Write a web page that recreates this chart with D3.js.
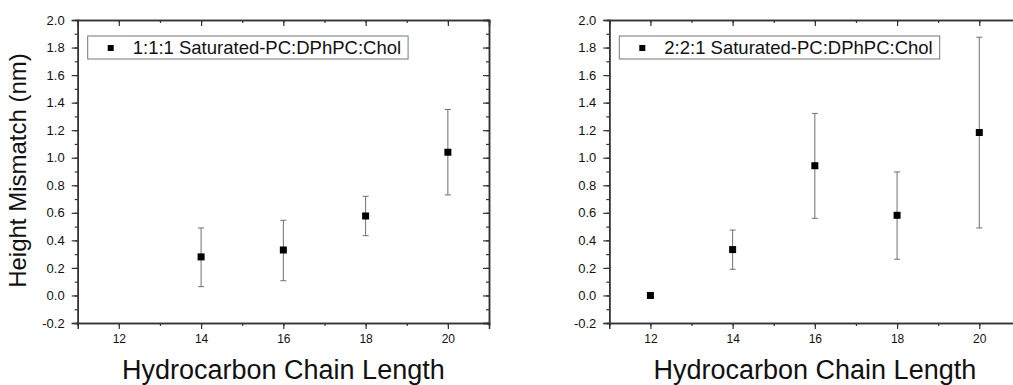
<!DOCTYPE html>
<html><head><meta charset="utf-8">
<script src="https://cdn.jsdelivr.net/npm/d3@7"></script>
<style>body{margin:0;background:#fff}svg{display:block}text{font-family:"Liberation Sans",Arial,sans-serif}</style>
</head><body><svg id="c" width="1013" height="385"></svg>
<script>
const chainA = [14, 16, 18, 20];
const meanA = [0.28, 0.33, 0.577, 1.04];
const lowA = [0.064, 0.107, 0.434, 0.73];
const highA = [0.49, 0.546, 0.72, 1.35];
const chainB = [12, 14, 16, 18, 20];
const meanB = [0.0, 0.333, 0.942, 0.582, 1.183];
const lowB = [0.0, 0.19, 0.56, 0.263, 0.49];
const highB = [0.0, 0.475, 1.322, 0.897, 1.875];
const legendA = "1:1:1 Saturated-PC:DPhPC:Chol";
const legendB = "2:2:1 Saturated-PC:DPhPC:Chol";
const xTicks = [12, 14, 16, 18, 20];
const yTicks = [-0.2, 0, 0.2, 0.4, 0.6, 0.8, 1.0, 1.2, 1.4, 1.6, 1.8, 2.0];
const xTitle = "Hydrocarbon Chain Length";
const yTitle = "Height Mismatch (nm)";

const svg = d3.select("#c");
const fmt = d => d3.format(".1f")(d).replace("−", "-");
const axisColor = "#333";

function panel(x0, x1, chain, mean, low, high, legend, showY) {
  const top = 20, bottom = 323;
  const x = d3.scaleLinear().domain([11, 21]).range([x0, x1]);
  const y = d3.scaleLinear().domain([-0.2, 2.0]).range([bottom, top]);
  const g = svg.append("g");
  const minorX = d3.range(11, 21.01, 1);
  const minorY = d3.range(-0.2, 2.001, 0.1);

  const bx = g.append("g").attr("transform", `translate(0,${bottom})`);
  bx.call(d3.axisBottom(x).tickValues(minorX).tickSize(3).tickFormat(""));
  bx.append("g").call(d3.axisBottom(x).tickValues(xTicks).tickSize(6).tickPadding(5).tickFormat(d3.format("d")));
  const tx = g.append("g").attr("transform", `translate(0,${top})`);
  tx.call(d3.axisBottom(x).tickValues(minorX).tickSize(3).tickFormat(""));
  tx.append("g").call(d3.axisBottom(x).tickValues(xTicks).tickSize(6).tickFormat(""));
  const ly = g.append("g").attr("transform", `translate(${x0},0)`);
  ly.call(d3.axisLeft(y).tickValues(minorY).tickSize(3).tickFormat(""));
  const lyt = ly.append("g").call(d3.axisLeft(y).tickValues(yTicks).tickSize(6).tickPadding(7).tickFormat(fmt));
  const ry = g.append("g").attr("transform", `translate(${x1},0)`);
  ry.call(d3.axisLeft(y).tickValues(minorY).tickSize(3).tickFormat(""));
  ry.append("g").call(d3.axisLeft(y).tickValues(yTicks).tickSize(6).tickFormat(""));

  g.selectAll(".domain").attr("stroke", axisColor).attr("stroke-width", 1.5);
  g.selectAll(".tick line").attr("stroke", axisColor).attr("stroke-width", 1.2);
  g.selectAll(".tick text").attr("fill", "#111").style("font-size", "12px").style("font-family", '"Liberation Sans",Arial,sans-serif');
  lyt.selectAll(".tick text").style("font-size", "13px");

  const data = chain.map((c, i) => ({c, m: mean[i], lo: low[i], hi: high[i]}));
  const eb = g.append("g").attr("stroke", "#707070").attr("stroke-width", 1);
  data.filter(d => d.hi > d.lo).forEach(d => {
    eb.append("line").attr("x1", x(d.c)).attr("x2", x(d.c)).attr("y1", y(d.lo)).attr("y2", y(d.hi));
    eb.append("line").attr("x1", x(d.c) - 3).attr("x2", x(d.c) + 3).attr("y1", y(d.lo)).attr("y2", y(d.lo));
    eb.append("line").attr("x1", x(d.c) - 3).attr("x2", x(d.c) + 3).attr("y1", y(d.hi)).attr("y2", y(d.hi));
  });
  g.append("g").selectAll("rect").data(data).join("rect")
    .attr("x", d => x(d.c) - 3.5).attr("y", d => y(d.m) - 3.5)
    .attr("width", 7).attr("height", 7).attr("fill", "#000");

  const lg = g.append("g").attr("transform", `translate(${x0 + 10},36)`);
  const lt = lg.append("text").attr("x", 45).attr("y", 18).style("font-size", "18.5px").attr("fill", "#111").text(legend);
  const w = lt.node().getComputedTextLength();
  lg.insert("rect", "text").attr("x", 0).attr("y", 0).attr("width", w + 52).attr("height", 23)
    .attr("fill", "#fff").attr("stroke", "#777").attr("stroke-width", 1);
  lg.append("rect").attr("x", 20).attr("y", 9).attr("width", 6).attr("height", 6).attr("fill", "#000");

  g.append("text").attr("x", (x0 + x1) / 2).attr("y", 379).attr("text-anchor", "middle")
    .style("font-size", "27px").attr("fill", "#111").text(xTitle);
  if (showY) {
    g.append("text").attr("transform", `translate(26,${(top + bottom) / 2 - 1}) rotate(-90)`)
      .attr("text-anchor", "middle").style("font-size", "24px").attr("fill", "#111").text(yTitle);
  }
}

panel(77.7, 489, chainA, meanA, lowA, highA, legendA, true);
panel(609.3, 1020.4, chainB, meanB, lowB, highB, legendB, false);
</script></body></html>
